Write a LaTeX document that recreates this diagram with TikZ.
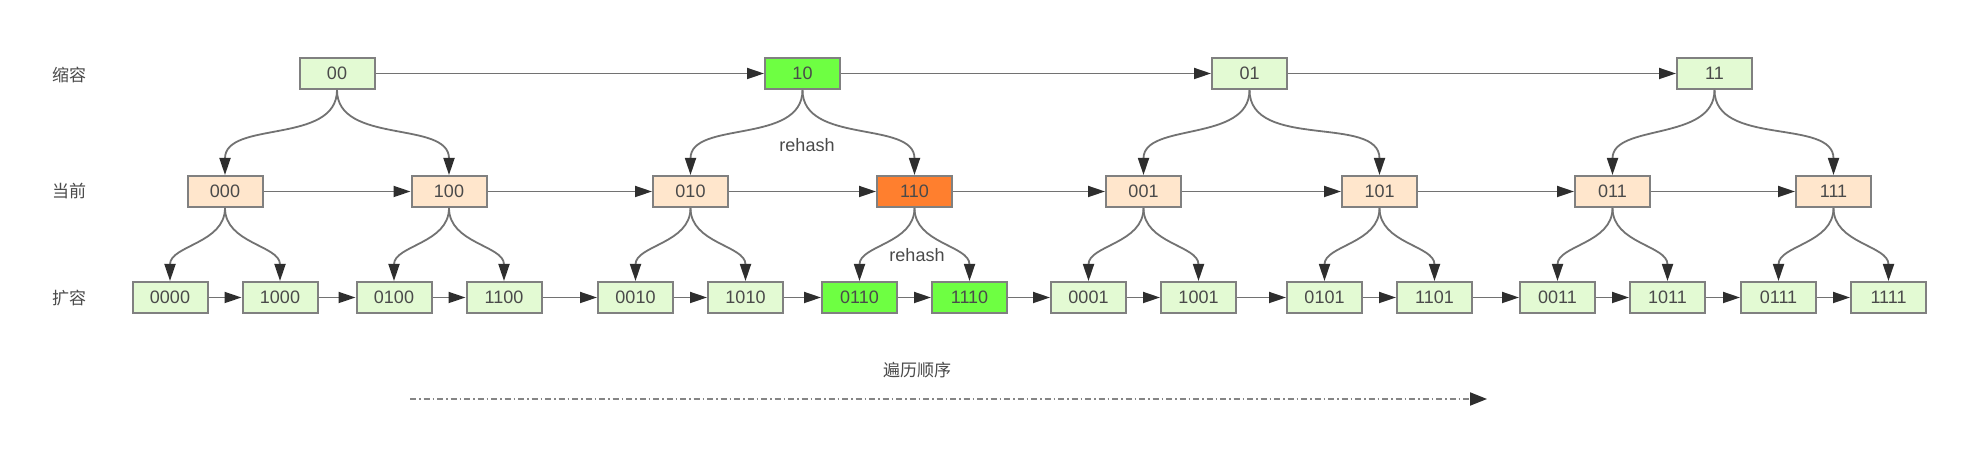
\documentclass[tikz,border=0pt]{standalone}
\usepackage{fontspec}
\setmainfont{Liberation Sans}
\newfontfamily\cjk{Noto Sans CJK SC}
\usetikzlibrary{arrows.meta}
\definecolor{slotline}{HTML}{808080}
\definecolor{linkline}{HTML}{727272}
\definecolor{tipdark}{HTML}{2E2E2E}
\definecolor{walkline}{HTML}{858585}
\definecolor{labeltext}{HTML}{4A4A4A}
\definecolor{palegreen}{HTML}{E3FAD3}
\definecolor{peach}{HTML}{FFE6CC}
\definecolor{brightgreen}{HTML}{6EFF42}
\definecolor{hotorange}{HTML}{FF7F2E}
\begin{document}
\begin{tikzpicture}[
    x=1pt, y=1pt,
    level 1/.style={sibling distance=224pt, level distance=118pt},
    level 2/.style={sibling distance=110pt, level distance=106pt, xshift=4pt},
    every node/.style={font=\fontsize{18}{20}\selectfont, text=labeltext},
    slot/.style={rectangle, draw=slotline, line width=2pt, minimum width=75pt, minimum height=31pt, inner sep=0pt},
    slotg/.style={slot, fill=palegreen},
    slotc/.style={slot, fill=peach},
    slotb/.style={slot, fill=brightgreen},
    sloto/.style={slot, fill=hotorange},
    rowname/.style={font=\cjk\fontsize{17}{20}\selectfont},
    link/.style={draw=linkline, line width=1.8pt, -{Triangle[length=17pt, width=11pt, color=tipdark]}},
    walk/.style={draw=walkline, line width=2pt, dash pattern=on 6pt off 3pt on 1.5pt off 3pt, -{Triangle[length=17pt, width=13pt, color=tipdark]}},
    edge from parent/.style={link},
    edge from parent path={(\tikzparentnode.south) to[out=-90, in=90] (\tikzchildnode.north)}
]
\path[use as bounding box, fill=white] (0,0) rectangle (1976,457);

% row names
\node[rowname] (lshrink) at (69,382) {缩容};
\node[rowname] (lcur) at (69,266) {当前};
\node[rowname] (lgrow) at (69,159) {扩容};

% buckets 00
\node[slotg] (n00) at (337,383.5) {00}
    child {node[slotc] (n000) {000}
        child {node[slotg] (n0000) {0000}}
        child {node[slotg] (n1000) {1000}}
    }
    child {node[slotc] (n100) {100}
        child {node[slotg] (n0100) {0100}}
        child {node[slotg] (n1100) {1100}}
    };

% buckets 10
\node[slotb] (n10) at (802.5,383.5) {10}
    child {node[slotc] (n010) {010}
        child {node[slotg] (n0010) {0010}}
        child {node[slotg] (n1010) {1010}}
    }
    child {node[sloto] (n110) {110}
        child {node[slotb] (n0110) {0110}}
        child {node[slotb] (n1110) {1110}}
    };

% buckets 01
\node[slotg] (n01) at (1249.5,383.5) {01}
    child[xshift=6pt] {node[slotc] (n001) {001}
        child {node[slotg] (n0001) {0001}}
        child {node[slotg] (n1001) {1001}}
    }
    child[xshift=18pt] {node[slotc] (n101) {101}
        child {node[slotg] (n0101) {0101}}
        child {node[slotg] (n1101) {1101}}
    };

% buckets 11
\node[slotg] (n11) at (1714.5,383.5) {11}
    child[xshift=10pt] {node[slotc] (n011) {011}
        child {node[slotg] (n0011) {0011}}
        child {node[slotg] (n1011) {1011}}
    }
    child[xshift=7pt] {node[slotc] (n111) {111}
        child {node[slotg] (n0111) {0111}}
        child {node[slotg] (n1111) {1111}}
    };

\node (rehash1) at (807,312) {rehash};
\node (rehash2) at (917,202) {rehash};

% shrunk order
\draw[link] (n00) -- (n10);
\draw[link] (n10) -- (n01);
\draw[link] (n01) -- (n11);

% current order
\draw[link] (n000) -- (n100);
\draw[link] (n100) -- (n010);
\draw[link] (n010) -- (n110);
\draw[link] (n110) -- (n001);
\draw[link] (n001) -- (n101);
\draw[link] (n101) -- (n011);
\draw[link] (n011) -- (n111);

% expanded order
\draw[link] (n0000) -- (n1000);
\draw[link] (n1000) -- (n0100);
\draw[link] (n0100) -- (n1100);
\draw[link] (n1100) -- (n0010);
\draw[link] (n0010) -- (n1010);
\draw[link] (n1010) -- (n0110);
\draw[link] (n0110) -- (n1110);
\draw[link] (n1110) -- (n0001);
\draw[link] (n0001) -- (n1001);
\draw[link] (n1001) -- (n0101);
\draw[link] (n0101) -- (n1101);
\draw[link] (n1101) -- (n0011);
\draw[link] (n0011) -- (n1011);
\draw[link] (n1011) -- (n0111);
\draw[link] (n0111) -- (n1111);

% walk direction
\coordinate (walkstart) at (410,58);
\coordinate (walkend) at (1487,58);
\draw[walk] (walkstart) -- (walkend);
\node[rowname] (walklabel) at (917,87) {遍历顺序};
\end{tikzpicture}
\end{document}
